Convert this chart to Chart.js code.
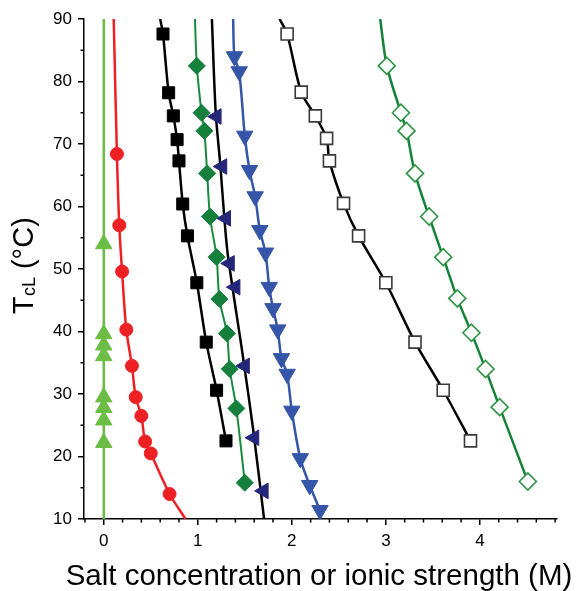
<!DOCTYPE html>
<html>
<head>
<meta charset="utf-8">
<script src="https://cdn.jsdelivr.net/npm/chart.js@4.4.1/dist/chart.umd.min.js"></script>
<style>
  html, body { margin: 0; padding: 0; background: #fff; }
</style>
</head>
<body>
<canvas id="tclChart" width="576" height="591"></canvas>
<script>
// values: concentration (M) vs cloud point T (°C)
var upTriConc = [0, 0, 0, 0, 0, 0, 0, 0];
var upTriTemp = [54.0, 39.6, 37.8, 36.1, 29.5, 27.8, 25.8, 22.2];

var circConc = [0.14, 0.165, 0.195, 0.24, 0.30, 0.34, 0.40, 0.44, 0.50, 0.70];
var circTemp = [68.4, 57.0, 49.6, 40.3, 34.5, 29.5, 26.5, 22.4, 20.5, 14.0];

var sqConc = [0.63, 0.69, 0.74, 0.78, 0.80, 0.84, 0.89, 0.99, 1.09, 1.20, 1.30];
var sqTemp = [87.6, 78.2, 74.5, 70.7, 67.3, 60.4, 55.3, 47.8, 38.3, 30.6, 22.5];

var dmConc = [0.99, 1.04, 1.07, 1.10, 1.13, 1.20, 1.23, 1.31, 1.34, 1.41, 1.50];
var dmTemp = [82.5, 75.0, 72.1, 65.3, 58.4, 51.9, 45.2, 39.7, 34.0, 27.7, 15.8];

var leftTriConc = [1.20, 1.26, 1.30, 1.34, 1.40, 1.50, 1.60, 1.70];
var leftTriTemp = [74.4, 66.4, 58.1, 50.9, 47.1, 34.5, 23.0, 14.5];

var downTriConc = [1.39, 1.44, 1.50, 1.55, 1.61, 1.66, 1.72, 1.76, 1.80, 1.85, 1.89, 1.95, 2.00, 2.09, 2.19, 2.30];
var downTriTemp = [84.0, 81.6, 71.3, 65.8, 61.6, 56.2, 52.6, 47.1, 43.7, 40.3, 35.7, 33.2, 27.3, 19.7, 15.4, 11.4];

var openSqConc = [1.95, 2.10, 2.25, 2.37, 2.40, 2.55, 2.71, 3.00, 3.31, 3.61, 3.90];
var openSqTemp = [87.6, 78.3, 74.5, 70.9, 67.3, 60.5, 55.3, 47.8, 38.3, 30.6, 22.5];

var openDmConc = [3.01, 3.16, 3.22, 3.31, 3.46, 3.61, 3.76, 3.91, 4.06, 4.21, 4.51];
var openDmTemp = [82.5, 75.0, 72.1, 65.3, 58.4, 51.9, 45.3, 39.8, 34.0, 27.9, 16.0];

// fitted curves
var fitUpTriConc = [0, 0];
var fitUpTriTemp = [10, 90];
var fitCircConc = [0.106].concat(circConc, [0.87]);
var fitCircTemp = [90].concat(circTemp, [10]);
var fitSqConc = [0.60].concat(sqConc);
var fitSqTemp = [90].concat(sqTemp);
var fitDmConc = [0.97].concat(dmConc);
var fitDmTemp = [90].concat(dmTemp);
var fitLeftTriConc = [1.15, 1.19, 1.24, 1.28, 1.32, 1.48, 1.59, 1.705];
var fitLeftTriTemp = [90, 75.2, 66.6, 58.6, 52.2, 36.0, 24.2, 10];
var fitDownTriConc = [1.376].concat(downTriConc);
var fitDownTriTemp = [90].concat(downTriTemp);
var fitOpenSqConc = [1.87].concat(openSqConc);
var fitOpenSqTemp = [90].concat(openSqTemp);
var fitOpenDmConc = [2.94].concat(openDmConc);
var fitOpenDmTemp = [90].concat(openDmTemp);

var xTicks = [0, 1, 2, 3, 4];
var yTicks = [10, 20, 30, 40, 50, 60, 70, 80, 90];

var FONT = '"Liberation Sans", Arial, sans-serif';

function pts(xs, ys) {
    return xs.map(function (x, i) { return { x: x, y: ys[i] }; });
}

function fitLine(xs, ys, color, width) {
    return {
        data: pts(xs, ys),
        showLine: true,
        borderColor: color,
        borderWidth: width,
        pointRadius: 0,
        tension: 0.3,
        order: 2
    };
}

function markers(xs, ys, style, radius, fill, stroke, bw, rot) {
    return {
        data: pts(xs, ys),
        showLine: false,
        pointStyle: style,
        pointRadius: radius,
        pointRotation: rot || 0,
        backgroundColor: fill,
        borderColor: stroke,
        borderWidth: bw,
        order: 1
    };
}

// minor ticks + axis titles (y title has a subscript)
var decorPlugin = {
    id: 'decor',
    afterDraw: function (chart) {
        var ctx = chart.ctx;
        var xs = chart.scales.x, ys = chart.scales.y;
        var area = chart.chartArea;
        ctx.save();
        ctx.strokeStyle = '#000';
        ctx.lineWidth = 1.5;
        ctx.beginPath();
        for (var i = -1; i <= 24; i++) {
            if (i % 5 === 0) continue;
            var px = xs.getPixelForValue(i * 0.2);
            ctx.moveTo(px, area.bottom);
            ctx.lineTo(px, area.bottom + 3.5);
        }
        for (var v = 15; v < 90; v += 10) {
            var py = ys.getPixelForValue(v);
            ctx.moveTo(area.left, py);
            ctx.lineTo(area.left - 3.5, py);
        }
        ctx.stroke();

        ctx.fillStyle = '#000';
        ctx.textBaseline = 'alphabetic';
        ctx.textAlign = 'center';
        ctx.font = '29.5px ' + FONT;
        ctx.fillText('Salt concentration or ionic strength (M)', 319, 585);

        // T_cL (°C), rotated
        ctx.translate(33, 266);
        ctx.rotate(-Math.PI / 2);
        ctx.textAlign = 'left';
        ctx.font = '29px ' + FONT;
        var wT = ctx.measureText('T').width;
        var rest = ' (\u00B0C)';
        var wRest = ctx.measureText(rest).width;
        ctx.font = '18px ' + FONT;
        var wSub = ctx.measureText('cL').width;
        var x0 = -(wT + wSub + wRest) / 2;
        ctx.font = '29px ' + FONT;
        ctx.fillText('T', x0, 0);
        ctx.font = '18px ' + FONT;
        ctx.fillText('cL', x0 + wT + 0.5, 2);
        ctx.font = '29px ' + FONT;
        ctx.fillText(rest, x0 + wT + wSub + 0.5, 0);
        ctx.restore();
    }
};

var ctx = document.getElementById('tclChart').getContext('2d');
var tclChart = new Chart(ctx, {
    type: 'scatter',
    data: {
        datasets: [
            fitLine(fitUpTriConc, fitUpTriTemp, '#6cbd45', 2.5),
            fitLine(fitCircConc, fitCircTemp, '#ed2024', 2.5),
            fitLine(fitSqConc, fitSqTemp, '#000000', 2.5),
            fitLine(fitDmConc, fitDmTemp, '#1a8a3e', 2),
            fitLine(fitLeftTriConc, fitLeftTriTemp, '#000000', 2.5),
            fitLine(fitDownTriConc, fitDownTriTemp, '#3556a8', 2.5),
            fitLine(fitOpenSqConc, fitOpenSqTemp, '#000000', 2.5),
            fitLine(fitOpenDmConc, fitOpenDmTemp, '#17823a', 2.5),

            markers(upTriConc, upTriTemp, 'triangle', 9.5, '#6cbd45', '#6cbd45', 1),
            markers(circConc, circTemp, 'circle', 6.5, '#ed2024', '#ed2024', 1),
            markers(sqConc, sqTemp, 'rect', 8.5, '#000000', '#000000', 1),
            markers(dmConc, dmTemp, 'rectRot', 8.5, '#15803c', '#15803c', 1),
            markers(leftTriConc, leftTriTemp, 'triangle', 9, '#24267a', '#24267a', 1, -90),
            markers(downTriConc, downTriTemp, 'triangle', 9.5, '#3556a8', '#3556a8', 1, 180),
            markers(openSqConc, openSqTemp, 'rect', 8.5, '#ffffff', '#3a3a3a', 1.6),
            markers(openDmConc, openDmTemp, 'rectRot', 8.5, '#ffffff', '#2e9446', 1.6)
        ]
    },
    options: {
        responsive: false,
        animation: false,
        layout: { padding: { top: 19, right: 19, left: 0, bottom: 0 } },
        plugins: {
            legend: { display: false },
            tooltip: { enabled: false }
        },
        scales: {
            x: {
                type: 'linear',
                min: -0.21,
                max: 4.82,
                afterBuildTicks: function (s) { s.ticks = xTicks.map(function (v) { return { value: v }; }); },
                afterFit: function (s) { s.height = 72; },
                ticks: { color: '#000', font: { family: FONT, size: 17 }, padding: 6, maxRotation: 0 },
                grid: { drawOnChartArea: false, tickLength: 6, color: '#000', lineWidth: 1.5 },
                border: { color: '#000', width: 1.5 }
            },
            y: {
                type: 'linear',
                min: 10,
                max: 90,
                afterBuildTicks: function (s) { s.ticks = yTicks.map(function (v) { return { value: v }; }); },
                afterFit: function (s) { s.width = 84; },
                ticks: { color: '#000', font: { family: FONT, size: 17 }, padding: 6 },
                grid: { drawOnChartArea: false, tickLength: 6, color: '#000', lineWidth: 1.5 },
                border: { color: '#000', width: 1.5 }
            }
        }
    },
    plugins: [decorPlugin]
});
</script>
</body>
</html>
